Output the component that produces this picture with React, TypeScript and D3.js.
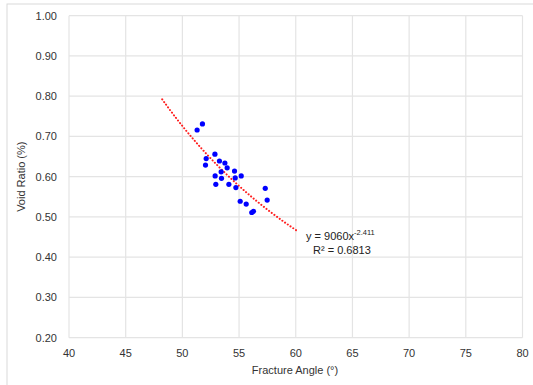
import React from "react";
import * as d3 from "d3";

const fractureAngle = [51.77, 51.3, 52.87, 52.1, 53.27, 53.75, 52.04, 53.95, 53.42, 54.6, 52.89, 55.19, 54.66, 53.45, 52.95, 54.1, 54.72, 57.31, 57.48, 55.1, 55.63, 56.27, 56.12];
const voidRatio = [0.731, 0.716, 0.656, 0.645, 0.639, 0.634, 0.629, 0.622, 0.612, 0.614, 0.602, 0.602, 0.597, 0.596, 0.581, 0.581, 0.573, 0.571, 0.542, 0.539, 0.532, 0.514, 0.511];
const xTicks = [40, 45, 50, 55, 60, 65, 70, 75, 80];
const yTicks = [0.2, 0.3, 0.4, 0.5, 0.6, 0.7, 0.8, 0.9, 1.0];
const trendCoef = 9060;
const trendExp = -2.411;
const trendRange = [48.22, 60.15];
const rSquared = "0.6813";

export default function App() {
  const W = 533, H = 385;
  const x = d3.scaleLinear().domain([40, 80]).range([69, 522.5]);
  const y = d3.scaleLinear().domain([0.2, 1.0]).range([337.7, 15.7]);
  const trendPts = d3.range(0, 101).map((i) => {
    const xv = trendRange[0] + (trendRange[1] - trendRange[0]) * (i / 100);
    return [xv, trendCoef * Math.pow(xv, trendExp)] as [number, number];
  });
  const line = d3.line<[number, number]>().x((d) => x(d[0])).y((d) => y(d[1]));
  const font = "'Liberation Sans', Arial, Helvetica, sans-serif";
  return (
    <svg width={W} height={H} style={{ position: "absolute", left: 0, top: 0 }} fontFamily={font}>
      <rect x={0} y={0} width={W} height={H} fill="#fff" />
      <rect x={7} y={4} width={W + 10} height={H + 10} fill="#fff" stroke="#d9d9d9" strokeWidth={1} />
      {yTicks.map((t) => (
        <line key={"gy" + t} x1={x(40)} x2={x(80)} y1={y(t)} y2={y(t)} stroke="#e4e4e4" strokeWidth={1.2} />
      ))}
      {xTicks.map((t) => (
        <line key={"gx" + t} x1={x(t)} x2={x(t)} y1={y(0.2)} y2={y(1.0)} stroke="#e4e4e4" strokeWidth={1.2} />
      ))}
      {yTicks.map((t) => (
        <text key={"ty" + t} x={57} y={y(t) + 4} textAnchor="end" fontSize={11} fill="#333">
          {t.toFixed(2)}
        </text>
      ))}
      {xTicks.map((t) => (
        <text key={"tx" + t} x={x(t)} y={357} textAnchor="middle" fontSize={11} fill="#333">
          {t}
        </text>
      ))}
      <path d={line(trendPts) || ""} fill="none" stroke="#ff2020" strokeWidth={2} strokeDasharray="0.1 3.2" strokeLinecap="round" />
      {fractureAngle.map((a, i) => (
        <circle key={"p" + i} cx={x(a)} cy={y(voidRatio[i])} r={2.6} fill="#0000ff" />
      ))}
      <text x={306} y={240} fontSize={11} fill="#222">
        y = 9060x<tspan dy={-5} fontSize={7.5}>-2.411</tspan>
      </text>
      <text x={313} y={254} fontSize={11} fill="#222">
        R² = {rSquared}
      </text>
      <text x={295} y={374} textAnchor="middle" fontSize={11} fill="#333">
        Fracture Angle (°)
      </text>
      <text transform={`translate(25,${y(0.6)}) rotate(-90)`} textAnchor="middle" fontSize={11} fill="#333">
        Void Ratio (%)
      </text>
    </svg>
  );
}
